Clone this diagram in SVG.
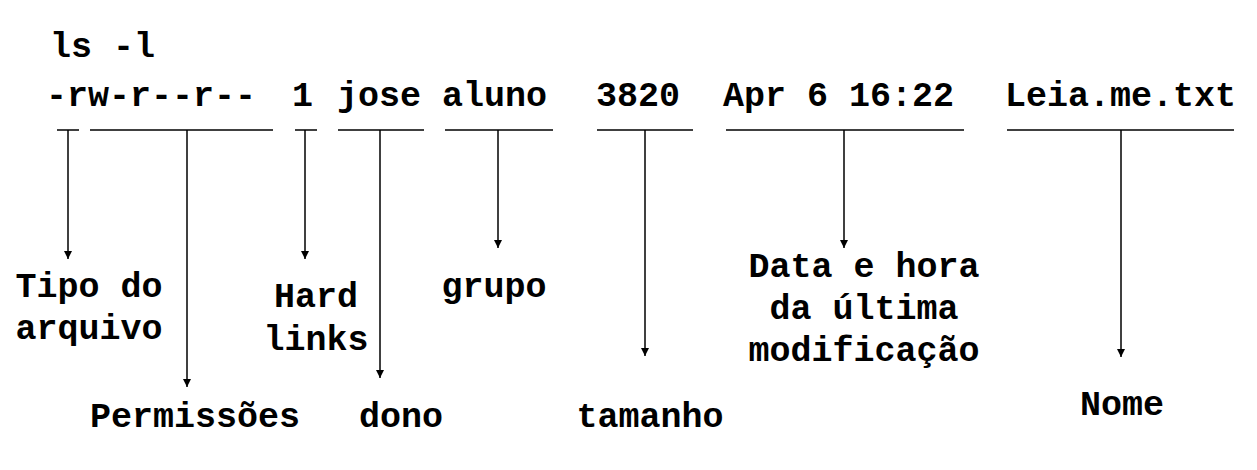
<svg xmlns="http://www.w3.org/2000/svg" width="1257" height="470" viewBox="0 0 1257 470">
<defs>
<style>
text{font-family:"Liberation Mono","Courier New",monospace;font-weight:bold;font-size:35px;fill:#000}
.lab{text-anchor:middle}
.ul{stroke:#000;stroke-width:1.5;fill:none}
.ar{stroke:#000;stroke-width:1.5;fill:none;marker-end:url(#ah)}
</style>
<marker id="ah" viewBox="0 0 10 10" refX="10" refY="5" markerWidth="8" markerHeight="8" markerUnits="userSpaceOnUse" orient="auto">
<path d="M0,0 L10,5 L0,10 z" fill="#000"/>
</marker>
</defs>
<rect width="1257" height="470" fill="#fff"/>
<g id="command">
<text x="50" y="57">ls -l</text>
</g>
<g id="output-line">
<text x="46" y="106">-rw-r--r--</text>
<text x="292" y="106">1</text>
<text x="337" y="106">jose</text>
<text x="442" y="106">aluno</text>
<text x="596" y="106">3820</text>
<text x="723" y="106">Apr 6 16:22</text>
<text x="1005" y="106">Leia.me.txt</text>
</g>
<g id="connectors">
<line class="ul" x1="57" y1="130" x2="79" y2="130"/>
<line class="ul" x1="90" y1="130" x2="273" y2="130"/>
<line class="ul" x1="295" y1="130" x2="317" y2="130"/>
<line class="ul" x1="338" y1="130" x2="424" y2="130"/>
<line class="ul" x1="445" y1="130" x2="553" y2="130"/>
<line class="ul" x1="597" y1="130" x2="693" y2="130"/>
<line class="ul" x1="726" y1="130" x2="964" y2="130"/>
<line class="ul" x1="1007" y1="130" x2="1234" y2="130"/>
<line class="ar" x1="68" y1="130" x2="68" y2="259"/>
<line class="ar" x1="187" y1="130" x2="187" y2="387"/>
<line class="ar" x1="305" y1="130" x2="305" y2="259"/>
<line class="ar" x1="380" y1="130" x2="380" y2="378"/>
<line class="ar" x1="498" y1="130" x2="498" y2="248"/>
<line class="ar" x1="645" y1="130" x2="645" y2="356"/>
<line class="ar" x1="844" y1="130" x2="844" y2="248"/>
<line class="ar" x1="1121" y1="130" x2="1121" y2="357"/>
</g>
<g id="tipo"><text class="lab" x="89" y="297">Tipo do</text><text class="lab" x="89" y="339">arquivo</text></g>
<g id="permissoes"><text class="lab" x="195" y="427">Permissões</text></g>
<g id="hardlinks"><text class="lab" x="316" y="307">Hard</text><text class="lab" x="316" y="350">links</text></g>
<g id="dono"><text class="lab" x="401" y="427">dono</text></g>
<g id="grupo"><text class="lab" x="494" y="297">grupo</text></g>
<g id="tamanho"><text class="lab" x="650" y="427">tamanho</text></g>
<g id="data"><text class="lab" x="864" y="277">Data e hora</text><text class="lab" x="864" y="319">da última</text><text class="lab" x="864" y="361">modificação</text></g>
<g id="nome"><text class="lab" x="1122" y="415">Nome</text></g>
</svg>
